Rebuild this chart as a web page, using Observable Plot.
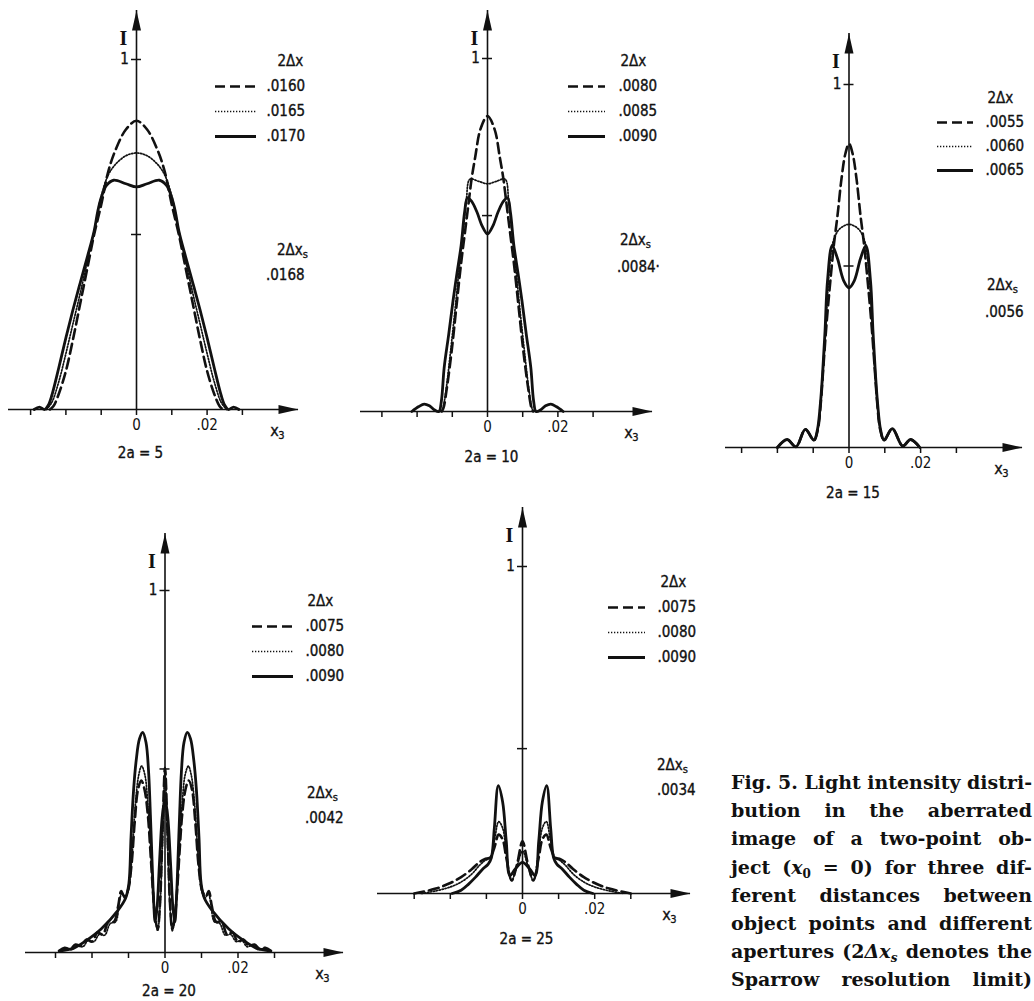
<!DOCTYPE html>
<html><head><meta charset="utf-8">
<script src="https://cdn.jsdelivr.net/npm/d3@7"></script>
<script src="https://cdn.jsdelivr.net/npm/@observablehq/plot@0.6"></script>
<style>
html,body{margin:0;padding:0;background:#fff;}
body{width:1034px;height:1001px;overflow:hidden;position:relative;}
.lab{position:absolute;font-family:'DejaVu Sans Condensed','DejaVu Sans',sans-serif;font-size:15px;color:#111;line-height:16px;white-space:nowrap;-webkit-text-stroke:0.35px #111;}
.lab sub{font-size:11px;vertical-align:-3px;line-height:0;}
.cap{position:absolute;left:731px;font-family:'DejaVu Serif',serif;font-weight:bold;font-size:19px;line-height:21px;white-space:nowrap;color:#111;transform-origin:0 0;}
.cap sub{font-size:12px;vertical-align:-4px;line-height:0;}
</style></head><body>
<script>
// ---------- data (x3 position, intensity I) ----------
const xTicks = [-0.03, -0.02, -0.01, 0, 0.01, 0.02, 0.03];
const xTickLabels = ["", "", "", "0", "", ".02", ""];
const yLabelTicks = [1];
const yLabelTexts = ["1"];

// panel 2a = 5
const p1Labels = [".0160", ".0165", ".0170"];
const p1Sparrow = ".0168";
const p1YTicks = [1, 0.5];
const p1_0160 = [[-0.0245,0],[-0.0235,0.01],[-0.022,0.045],[-0.020,0.11],[-0.018,0.2],[-0.016,0.3],[-0.014,0.4],[-0.012,0.5],[-0.010,0.585],[-0.008,0.68],[-0.006,0.74],[-0.003,0.8],[0,0.825],[0.003,0.8],[0.006,0.74],[0.008,0.68],[0.010,0.585],[0.012,0.5],[0.014,0.4],[0.016,0.3],[0.018,0.2],[0.020,0.11],[0.022,0.045],[0.0235,0.01],[0.0245,0]];
const p1_0165 = [[-0.0255,0],[-0.024,0.02],[-0.022,0.08],[-0.020,0.16],[-0.018,0.245],[-0.016,0.33],[-0.014,0.42],[-0.012,0.51],[-0.010,0.61],[-0.008,0.67],[-0.006,0.7],[-0.003,0.725],[0,0.733],[0.003,0.725],[0.006,0.7],[0.008,0.67],[0.010,0.61],[0.012,0.51],[0.014,0.42],[0.016,0.33],[0.018,0.245],[0.020,0.16],[0.022,0.08],[0.024,0.02],[0.0255,0]];
const p1_0170 = [[-0.029,0],[-0.0275,0.007],[-0.026,0],[-0.025,0.012],[-0.024,0.04],[-0.022,0.12],[-0.020,0.205],[-0.018,0.285],[-0.016,0.36],[-0.014,0.433],[-0.012,0.51],[-0.011,0.565],[-0.010,0.605],[-0.0085,0.64],[-0.0065,0.655],[-0.003,0.645],[0,0.636],[0.003,0.645],[0.0065,0.655],[0.0085,0.64],[0.010,0.605],[0.011,0.565],[0.012,0.51],[0.014,0.433],[0.016,0.36],[0.018,0.285],[0.020,0.205],[0.022,0.12],[0.024,0.04],[0.025,0.012],[0.026,0],[0.0275,0.007],[0.029,0]];

// panel 2a = 10
const p2Labels = [".0080", ".0085", ".0090"];
const p2Sparrow = ".0084·";
const p2YTicks = [1, 0.555];
const p2_0080 = [[-0.013,0],[-0.0125,0.01],[-0.0115,0.07],[-0.0102,0.17],[-0.0088,0.3],[-0.0075,0.42],[-0.0065,0.5],[-0.0055,0.58],[-0.0045,0.66],[-0.0035,0.72],[-0.002,0.8],[0,0.837],[0.002,0.8],[0.0035,0.72],[0.0045,0.66],[0.0055,0.58],[0.0065,0.5],[0.0075,0.42],[0.0088,0.3],[0.0102,0.17],[0.0115,0.07],[0.0125,0.01],[0.013,0]];
const p2_0085 = [[-0.0132,0],[-0.0128,0.005],[-0.0118,0.06],[-0.0105,0.17],[-0.009,0.31],[-0.0078,0.43],[-0.0068,0.52],[-0.006,0.6],[-0.005,0.658],[-0.0025,0.652],[0,0.645],[0.0025,0.652],[0.005,0.658],[0.006,0.6],[0.0068,0.52],[0.0078,0.43],[0.009,0.31],[0.0105,0.17],[0.0118,0.06],[0.0128,0.005],[0.0132,0]];
const p2_0090 = [[-0.0215,0],[-0.0195,0.014],[-0.018,0.021],[-0.0165,0.016],[-0.015,0.004],[-0.0138,0],[-0.0131,0.03],[-0.0123,0.125],[-0.011,0.22],[-0.0098,0.313],[-0.0087,0.39],[-0.0075,0.47],[-0.0065,0.565],[-0.0057,0.605],[-0.0045,0.595],[-0.003,0.565],[-0.0015,0.525],[0,0.503],[0.0015,0.525],[0.003,0.565],[0.0045,0.595],[0.0057,0.605],[0.0065,0.565],[0.0075,0.47],[0.0087,0.39],[0.0098,0.313],[0.011,0.22],[0.0123,0.125],[0.0131,0.03],[0.0138,0],[0.015,0.004],[0.0165,0.016],[0.018,0.021],[0.0195,0.014],[0.0215,0]];

// panel 2a = 15
const p3Labels = [".0055", ".0060", ".0065"];
const p3Sparrow = ".0056";
const p3YTicks = [1, 0.5];
const p3_0055 = [[-0.0200,0],[-0.0173,0.022],[-0.0148,0.002],[-0.0122,0.05],[-0.0098,0.02],[-0.0087,0.05],[-0.0079,0.12],[-0.0071,0.23],[-0.0062,0.35],[-0.0052,0.46],[-0.0042,0.56],[-0.0032,0.64],[-0.0021,0.74],[-0.001,0.81],[0,0.837],[0.001,0.81],[0.0021,0.74],[0.0032,0.64],[0.0042,0.56],[0.0052,0.46],[0.0062,0.35],[0.0071,0.23],[0.0079,0.12],[0.0087,0.05],[0.0098,0.02],[0.0121,0.052],[0.015,0.004],[0.0172,0.022],[0.0198,0]];
const p3_0060 = [[-0.0200,0],[-0.0173,0.022],[-0.0148,0.002],[-0.0122,0.05],[-0.0098,0.02],[-0.0087,0.05],[-0.0079,0.12],[-0.0073,0.2],[-0.0066,0.31],[-0.006,0.42],[-0.0053,0.51],[-0.0045,0.565],[-0.003,0.598],[-0.0015,0.61],[0,0.615],[0.0015,0.61],[0.003,0.598],[0.0045,0.565],[0.0053,0.51],[0.006,0.42],[0.0066,0.31],[0.0073,0.2],[0.0079,0.12],[0.0087,0.05],[0.0098,0.02],[0.0121,0.052],[0.015,0.004],[0.0172,0.022],[0.0198,0]];
const p3_0065 = [[-0.0200,0],[-0.0173,0.022],[-0.0148,0.002],[-0.0122,0.05],[-0.0098,0.02],[-0.0088,0.05],[-0.008,0.12],[-0.0074,0.2],[-0.0067,0.32],[-0.006,0.46],[-0.0047,0.556],[-0.0032,0.52],[-0.0015,0.46],[0,0.44],[0.0015,0.46],[0.0032,0.52],[0.0047,0.556],[0.006,0.46],[0.0067,0.32],[0.0074,0.2],[0.008,0.12],[0.0088,0.05],[0.0098,0.02],[0.0121,0.052],[0.015,0.004],[0.0172,0.022],[0.0198,0]];

// panel 2a = 20
const p4Labels = [".0075", ".0080", ".0090"];
const p4Sparrow = ".0042";
const p4YTicks = [1, 0.507];
const p4_0075 = [[-0.029,0.005],[-0.0275,0.013],[-0.026,0.009],[-0.0245,0.022],[-0.023,0.018],[-0.0215,0.036],[-0.02,0.03],[-0.0185,0.055],[-0.017,0.05],[-0.0155,0.085],[-0.014,0.085],[-0.0128,0.13],[-0.012,0.17],[-0.0112,0.155],[-0.0102,0.17],[-0.0092,0.24],[-0.0083,0.36],[-0.0074,0.45],[-0.0065,0.475],[-0.0056,0.45],[-0.0047,0.38],[-0.004,0.28],[-0.0033,0.17],[-0.0026,0.09],[-0.002,0.065],[-0.0014,0.13],[-0.0007,0.33],[0,0.51],[0.0007,0.33],[0.0014,0.13],[0.002,0.065],[0.0026,0.09],[0.0033,0.17],[0.004,0.28],[0.0047,0.38],[0.0056,0.45],[0.0065,0.475],[0.0074,0.45],[0.0083,0.36],[0.0092,0.24],[0.0102,0.17],[0.0112,0.155],[0.012,0.17],[0.0128,0.13],[0.014,0.085],[0.0155,0.085],[0.017,0.05],[0.0185,0.055],[0.02,0.03],[0.0215,0.036],[0.023,0.018],[0.0245,0.022],[0.026,0.009],[0.0275,0.013],[0.029,0.005]];
const p4_0080 = [[-0.029,0.004],[-0.027,0.011],[-0.0255,0.008],[-0.024,0.02],[-0.0225,0.016],[-0.021,0.034],[-0.0195,0.03],[-0.018,0.05],[-0.0165,0.048],[-0.015,0.08],[-0.0135,0.085],[-0.0125,0.14],[-0.0118,0.165],[-0.011,0.15],[-0.0101,0.17],[-0.0091,0.26],[-0.0082,0.4],[-0.0072,0.49],[-0.0064,0.515],[-0.0055,0.49],[-0.0047,0.41],[-0.004,0.3],[-0.0033,0.18],[-0.0026,0.09],[-0.002,0.06],[-0.0014,0.12],[-0.0007,0.3],[0,0.5],[0.0007,0.3],[0.0014,0.12],[0.002,0.06],[0.0026,0.09],[0.0033,0.18],[0.004,0.3],[0.0047,0.41],[0.0055,0.49],[0.0064,0.515],[0.0072,0.49],[0.0082,0.4],[0.0091,0.26],[0.0101,0.17],[0.011,0.15],[0.0118,0.165],[0.0125,0.14],[0.0135,0.085],[0.015,0.08],[0.0165,0.048],[0.018,0.05],[0.0195,0.03],[0.021,0.034],[0.0225,0.016],[0.024,0.02],[0.0255,0.008],[0.027,0.011],[0.029,0.004]];
const p4_0090 = [[-0.029,0.004],[-0.025,0.012],[-0.022,0.03],[-0.0175,0.065],[-0.013,0.115],[-0.0108,0.15],[-0.0099,0.19],[-0.0093,0.32],[-0.0086,0.45],[-0.0079,0.53],[-0.007,0.59],[-0.0061,0.608],[-0.0052,0.58],[-0.0045,0.5],[-0.004,0.38],[-0.0035,0.24],[-0.0031,0.14],[-0.0027,0.085],[-0.0022,0.12],[-0.0015,0.25],[-0.0007,0.38],[0,0.42],[0.0007,0.38],[0.0015,0.25],[0.0022,0.12],[0.0027,0.085],[0.0031,0.14],[0.0035,0.24],[0.004,0.38],[0.0045,0.5],[0.0052,0.58],[0.0061,0.608],[0.007,0.59],[0.0079,0.53],[0.0086,0.45],[0.0093,0.32],[0.0099,0.19],[0.0108,0.15],[0.013,0.115],[0.0175,0.065],[0.022,0.03],[0.025,0.012],[0.029,0.004]];

// panel 2a = 25
const p5Labels = [".0075", ".0080", ".0090"];
const p5Sparrow = ".0034";
const p5YTicks = [1, 0.443];
const p5_0075 = [[-0.03,0],[-0.024,0.015],[-0.02,0.032],[-0.017,0.05],[-0.014,0.075],[-0.012,0.095],[-0.0105,0.105],[-0.009,0.11],[-0.0078,0.14],[-0.0066,0.18],[-0.0055,0.165],[-0.0045,0.11],[-0.003,0.04],[-0.0015,0.09],[0,0.16],[0.0015,0.09],[0.003,0.04],[0.0045,0.11],[0.0055,0.165],[0.0066,0.18],[0.0078,0.14],[0.009,0.11],[0.0105,0.105],[0.012,0.095],[0.014,0.075],[0.017,0.05],[0.02,0.032],[0.024,0.015],[0.03,0]];
const p5_0080 = [[-0.028,0],[-0.024,0.008],[-0.02,0.02],[-0.017,0.035],[-0.014,0.06],[-0.012,0.085],[-0.0105,0.1],[-0.009,0.11],[-0.0078,0.16],[-0.0066,0.22],[-0.0055,0.2],[-0.0045,0.13],[-0.003,0.04],[-0.0015,0.085],[0,0.13],[0.0015,0.085],[0.003,0.04],[0.0045,0.13],[0.0055,0.2],[0.0066,0.22],[0.0078,0.16],[0.009,0.11],[0.0105,0.1],[0.012,0.085],[0.014,0.06],[0.017,0.035],[0.02,0.02],[0.024,0.008],[0.028,0]];
const p5_0090 = [[-0.0195,0],[-0.017,0.01],[-0.015,0.028],[-0.013,0.05],[-0.011,0.075],[-0.0095,0.09],[-0.0086,0.11],[-0.0078,0.2],[-0.0067,0.33],[-0.0055,0.28],[-0.0045,0.16],[-0.0035,0.055],[-0.002,0.075],[0,0.095],[0.002,0.075],[0.0035,0.055],[0.0045,0.16],[0.0055,0.28],[0.0067,0.33],[0.0078,0.2],[0.0086,0.11],[0.0095,0.09],[0.011,0.075],[0.013,0.05],[0.015,0.028],[0.017,0.01],[0.0195,0]];

const captionLines = [
  "Fig. 5. Light intensity distri-",
  "bution in the aberrated",
  "image of a two-point ob-",
  "ject (<i>x</i><sub>0</sub> = 0) for three dif-",
  "ferent distances between",
  "object points and different",
  "apertures (2<i>Δx<sub>s</sub></i> denotes the",
  "Sparrow resolution limit)"
];

// ---------- layout & styles ----------
const FONT = "'DejaVu Sans Condensed','DejaVu Sans',sans-serif";
const SERIF = "'Liberation Serif','DejaVu Serif',serif";
const INK = "#111";
const TXT = {fill: INK, stroke: INK, strokeWidth: 0.35};
const lineStyles = [
  {strokeWidth: 2.6, strokeDasharray: "10 5"},
  {strokeWidth: 1.7, strokeDasharray: "1.3 1.7"},
  {strokeWidth: 2.8}
];
const arrowSym = {draw(ctx) { ctx.moveTo(0, 0); ctx.lineTo(4.5, 20); ctx.lineTo(-4.5, 20); ctx.closePath(); }};
const tickLabelMap = new Map(xTicks.map((t, i) => [t, xTickLabels[i]]));

const panels = [
  {title: "2a = 5",  curves: [p1_0160, p1_0165, p1_0170], labels: p1Labels, sparrow: p1Sparrow, yTicks: p1YTicks,
   L: {axisLeft: 8, axisRight: 298, x0: 136, y0: 409, yTip: 10, xUnit: 35.3, yUnit: 350, titleDy: 44},
   G: {lineX1: 215, lineX2: 256, textX: 266, headerX: 277, rowTop: 60, rowBottom: 137, sH: [277, 250], sV: [266, 275]}},
  {title: "2a = 10", curves: [p2_0080, p2_0085, p2_0090], labels: p2Labels, sparrow: p2Sparrow, yTicks: p2YTicks,
   L: {axisLeft: 360, axisRight: 652, x0: 487, y0: 411, yTip: 10, xUnit: 35.2, yUnit: 353, titleDy: 46},
   G: {lineX1: 568, lineX2: 605, textX: 618, headerX: 620, rowTop: 60, rowBottom: 137, sH: [620, 240], sV: [617, 267]}},
  {title: "2a = 15", curves: [p3_0055, p3_0060, p3_0065], labels: p3Labels, sparrow: p3Sparrow, yTicks: p3YTicks,
   L: {axisLeft: 725, axisRight: 1022, x0: 848.5, y0: 447, yTip: 33, xUnit: 35.8, yUnit: 363, titleDy: 46},
   G: {lineX1: 937, lineX2: 973, textX: 985, headerX: 987, rowTop: 97, rowBottom: 170, sH: [987, 285], sV: [985, 312]}},
  {title: "2a = 20", curves: [p4_0075, p4_0080, p4_0090], labels: p4Labels, sparrow: p4Sparrow, yTicks: p4YTicks,
   L: {axisLeft: 25, axisRight: 343, x0: 164.5, y0: 952, yTip: 533, xUnit: 36.5, yUnit: 362, titleDy: 39},
   G: {lineX1: 252, lineX2: 293, textX: 305, headerX: 307, rowTop: 600, rowBottom: 677, sH: [307, 793], sV: [305, 818]}},
  {title: "2a = 25", curves: [p5_0075, p5_0080, p5_0090], labels: p5Labels, sparrow: p5Sparrow, yTicks: p5YTicks,
   L: {axisLeft: 377, axisRight: 690, x0: 522, y0: 893, yTip: 507, xUnit: 36.1, yUnit: 327, titleDy: 46},
   G: {lineX1: 608, lineX2: 645, textX: 657, headerX: 660, rowTop: 582, rowBottom: 657, sH: [657, 765], sV: [657, 790]}}
];

function place(el, left, top) {
  el.style.position = "absolute";
  el.style.left = left + "px";
  el.style.top = top + "px";
  document.body.appendChild(el);
}

for (const p of panels) {
  const L = p.L;
  const mL = 20, mR = 22, mT = 12, mB = 62;
  const xDomain = [(L.axisLeft - L.x0) / L.xUnit * 0.01, (L.axisRight - L.x0) / L.xUnit * 0.01];
  const yDomain = [0, (L.y0 - L.yTip) / L.yUnit];
  const svg = Plot.plot({
    width: L.axisRight - L.axisLeft + mL + mR,
    height: L.y0 - L.yTip + mT + mB,
    marginLeft: mL, marginRight: mR, marginTop: mT, marginBottom: mB,
    x: {domain: xDomain},
    y: {domain: yDomain, axis: null},
    style: {fontFamily: FONT, fontSize: "15px", background: "transparent", color: INK, overflow: "visible"},
    marks: [
      Plot.ruleY([0], {stroke: INK, strokeWidth: 1.6}),
      Plot.ruleX([0], {stroke: INK, strokeWidth: 1.6}),
      Plot.axisX({ticks: xTicks, tickFormat: d => tickLabelMap.get(d) ?? "", tickSize: 6, tickPadding: 4, stroke: INK, strokeWidth: 1.5, fill: INK, fontSize: 15}),
      Plot.ruleY(p.yTicks, {x1: 0, x2: 0, insetLeft: -5, insetRight: -5, stroke: INK, strokeWidth: 1.5}),
      Plot.text(yLabelTicks, {x: 0, y: d => d, text: (d, i) => yLabelTexts[i], dx: -12, ...TXT}),
      Plot.text(["I"], {x: 0, frameAnchor: "top", text: d => d, dx: -13, dy: 20, fontFamily: SERIF, fontSize: 20, fontWeight: "bold", fill: INK}),
      Plot.dot([0], {x: d => d, frameAnchor: "top", symbol: arrowSym, r: 5, fill: INK, stroke: "none"}),
      Plot.dot([0], {y: d => d, frameAnchor: "right", symbol: arrowSym, rotate: 90, r: 5, fill: INK, stroke: "none"}),
      Plot.text(["x"], {frameAnchor: "bottom-right", text: d => d, textAnchor: "middle", lineAnchor: "middle", dx: -24, dy: 21, fontSize: 16, ...TXT}),
      Plot.text(["3"], {frameAnchor: "bottom-right", text: d => d, textAnchor: "middle", lineAnchor: "middle", dx: -17, dy: 26, fontSize: 11, ...TXT}),
      Plot.text([p.title], {x: 0, frameAnchor: "bottom", text: d => d, textAnchor: "middle", lineAnchor: "middle", dx: 4, dy: L.titleDy, ...TXT}),
      ...p.curves.map((c, i) => Plot.line(c, {x: d => d[0], y: d => d[1], curve: "catmull-rom", stroke: INK, strokeLinejoin: "round", ...lineStyles[i]}))
    ]
  });
  place(svg, L.axisLeft - mL, L.yTip - mT);

  // legend for 2Δx
  const G = p.G;
  const rows = ["2Δx", ...p.labels];
  const lw = G.textX + 48 - G.lineX1;
  const lh = G.rowBottom - G.rowTop + 24;
  const legend = Plot.plot({
    width: lw, height: lh, margin: 0,
    x: {domain: [0, lw], range: [0, lw], axis: null},
    y: {type: "point", domain: rows, range: [12, lh - 12], padding: 0, axis: null},
    style: {fontFamily: FONT, fontSize: "15px", background: "transparent", color: INK, overflow: "visible"},
    marks: [
      Plot.text([rows[0]], {x: G.headerX - G.lineX1, y: d => d, text: d => d, textAnchor: "start", ...TXT}),
      ...p.labels.map((lab, i) => Plot.ruleY([lab], {y: d => d, x1: 0, x2: G.lineX2 - G.lineX1, stroke: INK, ...lineStyles[i]})),
      Plot.text(p.labels, {x: G.textX - G.lineX1, y: d => d, text: d => d, textAnchor: "start", ...TXT})
    ]
  });
  place(legend, G.lineX1, G.rowTop - 12);

  const sh = document.createElement("div");
  sh.className = "lab";
  sh.innerHTML = "2Δx<sub>s</sub>";
  place(sh, G.sH[0], G.sH[1] - 8);
  const sv = document.createElement("div");
  sv.className = "lab";
  sv.textContent = p.sparrow;
  place(sv, G.sV[0], G.sV[1] - 8);
}

// caption: each line set to full measure (731 → 1032)
const CAP_W = 301;
captionLines.forEach((t, i) => {
  const d = document.createElement("div");
  d.className = "cap";
  d.innerHTML = t;
  place(d, 731, 772 + i * 28.2);
  const w = d.getBoundingClientRect().width;
  const spaces = (d.textContent.match(/ /g) || []).length;
  if (w < CAP_W && spaces) {
    d.style.wordSpacing = ((CAP_W - w) / spaces) + "px";
  } else if (w > CAP_W) {
    d.style.transform = "scaleX(" + (CAP_W / w) + ")";
  }
});
</script>
</body></html>
